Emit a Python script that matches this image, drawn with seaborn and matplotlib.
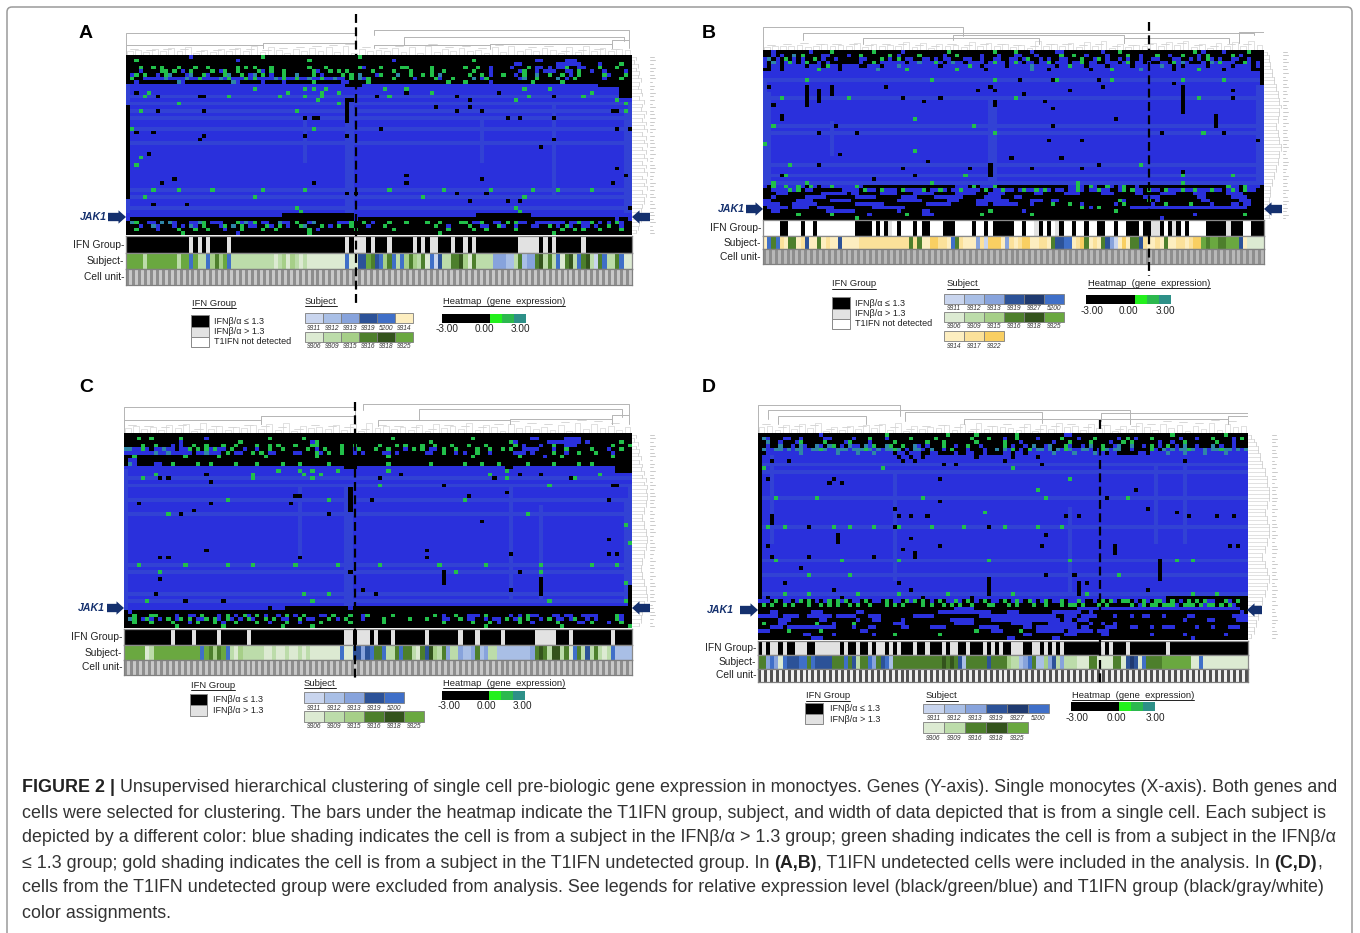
import numpy as np
import seaborn as sns
import matplotlib.pyplot as plt
from matplotlib.colors import ListedColormap
from matplotlib.patches import Rectangle, FancyBboxPatch

sns.set_theme(style='white')
plt.rcParams['font.family'] = ['Liberation Sans', 'DejaVu Sans']

W, H = 1360, 933
NCOL = 120

# heatmap cell codes
heat_codes = '.bltg'
heat_colors = ['#000000', '#2a30dc', '#3242d4', '#2f86a6', '#22c04a']

ifn_codes = 'KGW'
ifn_colors = ['#000000', '#e2e2e2', '#ffffff']

subject_codes = 'abcdefghijklmno'
subject_colors = ['#c9d5ee', '#a9bfe6', '#87a3dc', '#2c5298', '#3f6fc8', '#1f3a70',
                  '#dcead2', '#bcdcaa', '#a6cf88', '#4d7f2c', '#33531c', '#6aa840',
                  '#fdeec0', '#fbe19a', '#f9cf62']

# ---- panel A ----
top_a = [
    ".......... .....b.... .......... ..g....... .......... .....g.... .......... .......... .......... .......... .......... ..........",
    "..g....... .......... ......b... .......... ...g...... .......... ...b...... .......... ..g....... .......bb. ....bbb... ..........",
    ".......... .......... .......... .......... .......... .......... .......... .......... .......... ..bb...... ..bbbbbb.. ..b....g..",
    "...g..g.g. ..g...g..g ......g.g. g...g..... ...g...g.. .....gb... g....gg... ..g....... g..g..b... .b...g.bb. b.bbg..bb. ..g...g...",
    "...b....gg .g.b.g.... g.bg..g... .gb.g..g.. ....gb..g. g.g.....g. ...g...g.. ..g..g.... ..g...b... ...bg..b.b bb..bb.g.. b..b....b.",
    ".bg.g..b.g t...bt..gb ...gt..g.b t.g.b..g.. t...g.b... .g.g.t...b g...t..g.. g.g.t..... .g..g.b..g ..b.g..t.. g..g.b.g.. ...gb...g.",
    ".g..bbbbbt bbbbtbbgbb bbtbgbbbgb gbbbbtbgbb gbbtbbgbbt bb.g.tbg.. ...g....b. ...gb..g.. ..t.bg.... ...bt..g.. ..t.b.g... ...b...g..",
    "..b....... ..tb...... .....tb... ..b....b.. ....g..... .bb....g.. .......... ......g... g.....b... ......g... ...g...... ..........",
]
bottom_a = [
    "b......... .......... .......... .......... .......... ....b..... .......... .......... .......... .......... .......... ......b..b",
    ".tg..bb.t. tb...bbtg. bbb...gbtb g.bb..tbb. g..bt..... bbbg..g.b. ..g...g... .g..g....g g.bbg..bb. g.gbb..bbb bbbb.bbgbb g.b.b.gb..",
    "...b..tb.. .b.b.tb.g. ..bg.t.g.b b..gb.g.b. .gt...g.b. g..g...b.. .g........ ...g..b... .g..bb..gb ..b...bb.. g.b.gb..bb .b..g..b..",
    "..g....b.. ..g...g..g ...b...g.. ..g..g.... ...g.b.... ....g..... ...g...... ......g... ..g..g.... ..g....... ...g..g.g. ..g....g..",
    ".......... ...g...... ......b... .......... ...g...... .......... .......... ....g..... .......... .......... .g........ ..........",
]
light_a = [11, 13, 15, 17, 20, 24, 37, 39, 42]
light_cols_a = [(0, 8, 44), (42, 18, 30), (52, 12, 44), (53, 12, 44), (84, 18, 30), (101, 14, 40), (119, 14, 44), (118, 16, 44)]
black_a = {
    10: [2, 66, 88], 11: [7, 17, 18, 59, 78, 101], 12: [81, 52, 53], 14: [73, 81], 15: [7, 18, 78, 84, 115, 116],
    17: [42, 44, 45, 90, 93, 101], 20: [60, 116, 119], 21: [2, 6], 22: [18, 42, 52], 23: [17, 101], 25: [98],
    27: [5], 31: [116], 33: [66, 118], 34: [11, 84], 35: [8, 44, 66, 115], 38: [52, 54, 78, 85], 40: [81, 90, 93],
    41: [6, 14], 42: [119],
}
green_a = {
    9: [30, 42, 44, 47, 61, 66, 94, 100], 10: [5, 38, 46, 50, 72, 110], 11: [4, 24, 36, 42, 46, 62, 95, 108], 12: [45, 92, 116],
    13: [12, 50, 118], 15: [3, 40, 118], 20: [1, 44], 37: [6, 12, 20, 32, 42, 62, 75, 86, 96, 102, 110],
    39: [4, 30, 70, 94], 42: [40, 92], 43: [41, 93], 30: [2], 28: [3],
}
spans_a = [(8, 9, 52, 56), (8, 9, 112, 120), (9, 12, 117, 120), (44, 45, 37, 54), (44, 45, 83, 96), (12, 19, 52, 53), (14, 40, 0, 1)]
ifn_a = ("KKKKKKKKKKKKKKK G K G K G KKKK G KKKKKKKKKKKKKKKKKKKKKKKKKKK G K G"
         "GG K G KKK G KKK KK G K G K GG KKK G KK G K G KK KKK KK KKK GGGGG K G K G KKKK KK G KKKK KKK KKK KKK G KK G K")
subject_a = ("llllhlllllllhll e l h h e ijil e hhhhhhhhh hghigihghg gggggggg e g g"
             "ddljdeijehe ijihjgeadhhjjkigjhhhhcccbbhjbccjkhjhegjkhejkhajehhjeg")
fine_a = "3526473815264739285164738291645372819263745182936475182937465"
right_a = "21324354356476587687968796879687968796877654354322"

# ---- panel B ----
top_b = [
    "..b....... .b....g... ......g... ...b...... ....g..... .....g.... g...b..... bb........ .b...g.... .......... ...g.b.... b.....g...",
    "..b.b..t.g ....bb.... b..g...... g.b....g.. ...b..g... ..b...b... bb...b.... .g..g..b.. ..b....g.. b...g..b.. g...b.g... ..g.b.....",
    "bt.b.g.b.b ..g.b..b.. ...bb...g. b.g.bb..bb .b.bb...bb ..b..bb..b b.bg..b.b. .bb...g..b g.b..b.b.. b..bb...bb ..b.b.gb.b ..bb..b...",
    "b.tb.bgb.b g..b.b.... ...b..g.bb bbbb.bbtbb bgb.btbb.b bbb.bgbb.b gb.bb.bbg. bbb.bbg.bb ..bbb.bg.b b.b..bb.gb tb...b.tbg bbb..gb.b.",
    "b.bb.bbbbb .bbb.gbb.b bbb..bbb.b bbtbbbbbbb bb.bbbbbbg bb.bbbbb.b bbbbtbbbbb .bbgbbb.bb bb.bbbbb.b bbbbbtbb.b .bbbbb.bbb bb.bbbb.b.",
    "..bb.bbbbb bbbgbbbb.b bbbbbbbtbb bbbbgbbbbb bbbbbbgbbb bbb.bbbbbb bbbbtbbb.b bbbbbbbb.b bbbgbbbbbb tbbbbbbb.b bbbbgbbbbb .bbbbbb...",
]
bottom_b = [
    "b.gbbgbbgb .gb.bbgbbb bbgb...... .......... ......bbb. g.bbbg.... .......... ...bbgb.gb ..gb.bg..b .......... .......... .gbb.gbbb.",
    "..bbbbgbg. bb.......b bbb.gbb.gb bb.gbbbbg. bbgb.bbgbb bb.g.bbgbb .bgbbgbgb. bb.bbgb.bb gbb..bg.gb b.gbb.gbbb gbbgbbbgbb .bgb.gbb..",
    "...bbb.... ....bbbbbb .bb.....bb bb....bbbb b.....bbbb b...bbbb.. .....bb... ..bbbb.... .bbb.....b b....bbbb. ...bbb.... .bbbb.....",
    "..b....... bbbbb..... ..bbbbb... ...bbbb... .bbbbbbb.. ...bbbb... bb........ .......... .......... .bbbb..... ....bb.... ..bbbb....",
    "bb......bb bb....bbbb b......... ..bbbbbb.. ....bbb... .bbbbbbbb. ....bbb..b b......... .....gb... ..g.b..... .....bb... ....bbb...",
    "bbbb...bbb bbb....... ..bbbbbbb. .........b bbbbb..... .bbb.bbbbb b...b....g ...g..b... ....b.g... ...b..g... ..g....b.. ..bb.bb...",
    ".bbbbb.bbb b..bbbb... ......bbbb bbbb...... .......... .......... .......... ......g.b. g.......bb bbbbbbbbbb bbbbbbbbbb bbbbbb....",
    "..bb...... .....bbbbb bb........ ..b.....bb .......... ....g..... ..b....... .......... ....g..... .......... .......... ..........",
    "........g. ......g... .....b.... ....g...bb b......... ..g....... ....g..... .......... .......... .......... ...b...... .....g....",
    ".......... .......... ..g....... .......... .......... .......... .......... .......... .......... .....b.... .......... ..........",
]
light_b = [8, 13, 21, 23, 32, 35, 37]
light_cols_b = [(0, 8, 38), (1, 12, 38), (16, 20, 30), (54, 14, 38), (55, 14, 38), (118, 10, 38), (119, 10, 38)]
black_b = {
    8: [61, 69, 80], 9: [98, 119], 10: [1, 29, 54, 81], 11: [51, 55, 73, 112], 12: [62], 13: [33, 42, 112], 14: [38, 67, 55],
    15: [2, 55], 16: [69], 18: [4], 19: [84, 4], 21: [17, 69, 108], 23: [13, 22, 95, 110], 25: [68, 76, 118],
    29: [18], 30: [59, 71], 31: [39], 32: [13, 80, 54], 33: [33, 49, 64, 76], 34: [100], 35: [4, 36], 36: [26],
}
green_b = {
    8: [10, 40, 55, 70, 83, 100, 110], 13: [4, 20, 60, 104], 21: [2, 50], 23: [55, 105], 32: [6, 90], 35: [5, 48, 100, 112], 37: [2, 10, 40, 75, 100],
    28: [36], 19: [36], 26: [0],
}
spans_b = [(10, 16, 10, 11), (11, 15, 13, 14), (10, 13, 16, 17), (10, 18, 100, 101), (18, 22, 108, 109), (32, 36, 54, 55), (6, 9, 119, 120)]
ifn_b = ("WWWWK KWWW KWWK WWWWWW WWW KKK KWKWK GWKWW WK WKKWW WKKK WW WWK WWK WKKKK KWWKW WGKWK WGKWW"
         "KWWKW WKKWW KWWKK KWKK GGKWK GKWKWWW WKK KKKGKKKWWKK KKKKKKKKKK KKK WWKK")
subject_b = ("mejen mjjmn dmmj mnmmd mmmmnnnnnnnnnnn njnjm moonn mejnm mmcna ooomc nmnoom"
             "mnnmj ddeemn ojmnm jdcamo mjjd nmmn mjmmnnmn ooljlljj llldmg gggggggggg gmmm mgljg")
fine_b = "2434523645372635482716352847362519364728391625374859261738495"
right_b = "1223344556677889887766778899887766554433322112234"

# ---- panel C ----
top_c = [
    ".......... .......... .......... .......... .......... .......... .......... .......... .......... .......... .......... ..........",
    "...g..g... ...g.....b .......... ....g..... ..g....... .......... ...g...... .......... ..g....... ......bb.. ....bbbb.. ..........",
    ".......... ...b...... .......g.. .......... ....bg.... .......... .......... ..g....... .......... .gb....... bbbbbbbb.b .......g..",
    "....g..g.. .b.b..g..g ...g..g... .g..g.g... g...gg.... .g..g..... g...g.g... g..g...g.. .g...g.... ..g.b...b. .g..bbb... .....g...g",
    "ttbbgb.bbt bb.bbg.g.g bgbb.g..b. .b..g..g.. ...g.b.g.. .g..bg...g ..g...b.g. g.bb.g..g. ...g..g..g .g..bbbb.. .b..g..... g...b..g..",
    "bbbbbbbtbb tbbbbb.bbt bbb.g.bb.. g.g.bb.... bb...gb.g. .g..b.b... .bb.b..... .bb..g..b. b..g..b... ..bbb.b... .g..b..g.. .g...b....",
    "..g....... ....g..... ..g....... ...g...... .....g.... .......... ..g....... .......... ..g....... ...g.....b ...g...... .....g....",
    ".bb...... .......... .......... .......... .......... .......... .......... .......... .......... .......... .......... ...........",
    ".tb....bb. .g.....g.. g.....g... .g.....g.. .g......g. .......... ..g....... ..g....... g...g...g. .....g.... .g.....g.. g.........",
]
bottom_c = [
    ".b........ .......... .......... .......... .......... .......... .......... .......... .......... .......... .......... ..........",
    "..g...gg.. ..b..bb.g. ..b.g.b.gb .g.b..b.g. b.g...bb.g ...g..bg.. ...g...... ...g.b..g. .bbb.g.... .b.b.gbb.. .bb.bb..bb bb....gb..",
    ".tg.bgb.b. g.bg.g.bbg .gb.gb.b.g b..g.g.bb. .g.bb...g. b.g...b... .g.....g.. .g...bb..g .bb..b.bb. g.bg.g..b. g.bb.bg..b .b....gb..",
    "..g...g... .g...b.g.. .g.b..g... .g..b...g. .b....g... ...g...... .g........ .....g.... ..g...g.b. ...g..b... ..g....bb. g...b..g..",
    ".......... ..g....... ...g...... .......g.. ....g..... .......... .......... .......... .....g.... .......... ...g...... .........g",
]
light_c = [12, 14, 18, 22, 36, 38, 44, 46]
light_cols_c = [(0, 10, 49), (41, 14, 34), (53, 14, 48), (52, 14, 48), (91, 14, 46), (98, 20, 46), (118, 18, 46), (119, 14, 42)]
black_c = {
    11: [19, 65, 93, 98], 12: [8, 10, 60, 87, 105], 13: [20], 14: [75, 115, 116], 15: [53], 16: [90], 17: [40, 41, 81], 18: [58, 114],
    19: [3, 20, 39], 21: [16], 22: [13, 48], 24: [84], 29: [114], 32: [19, 71], 33: [91, 114, 116], 34: [8, 10, 41, 71], 38: [53, 75, 93],
    40: [8, 98], 43: [56, 91], 44: [7, 59], 46: [14, 23], 48: [34, 113],
}
green_c = {
    10: [36, 41, 44, 50, 62, 90], 11: [7, 30, 42, 46, 86, 112], 12: [4, 30, 44, 90, 106], 14: [60, 100], 18: [24, 48, 80], 22: [10, 95],
    36: [3, 14, 24, 30, 40, 50, 60, 74, 85, 98, 110, 116], 38: [8, 78, 98],
    44: [42, 48, 98], 46: [5, 44, 100, 118], 30: [119], 41: [98, 118], 42: [119], 25: [118],
}
spans_c = [(9, 10, 52, 55), (9, 11, 116, 120), (9, 10, 90, 92), (48, 49, 38, 53), (48, 49, 54, 120), (15, 22, 53, 54), (38, 42, 75, 76),
           (40, 45, 98, 99), (42, 48, 119, 120), (14, 15, 115, 117)]
ifn_c = ("KKKKKKKKKKK G KKKK G KKKKK G KKKKKK G KKKKKKKKKKKKKKKKKKKKKK G G K G"
         "GG K G K KK G KK KKK KK G K KK KK KK GK KK G KKKKK G KKK K K KK GGGGG KKK G KK KK K KK KK G KK KK G K")
subject_c = ("lllllghlllllllllll e l jijl e hgihh hh hgghg ghgghghg gggggg e g g"
             "ddcdejjehhjejjhgjdkihjchhcbbcjbchhbbbbbbbbcjkjhkkhjgejhdhjhgheb")
fine_c = "4635274819362547382916453728194635271846392751846352719384625"
right_c = "213243546576879899887766778899887766556677889977665544332211223"

# ---- panel D ----
top_d = [
    ".......... .....b.... .......... .g........ ......g... ...g...... ...g...... .....bb... .......... .......... .g........ ....g.....",
    ".tb...bb.. b.....bb.. ...b...g.. .b.....g.. ...g...... ..g...g... b..g....b. ....g...b. ..g.....b. g.b...g... ...b...b.. .g....b.g.",
    "..t..b...b g.....g... .bg....b.. ...g...... .g...g.... ...g...... g...b..... ..b...g... .g....b..g .g......b. .b..g..... ..g...b...",
    "..b..t..b. tb..tb.tg. b.tbb.tbg. .tg..g..tb .b...g..b. .g..b..... g.b..b.t.. bt...gb..b .t..g..bt. .t..b.g.b. g.b.t..b.. .t.b..b...",
    ".tbbttbtbt tbbttgtbbt ttbtttgtbt bttgt.b.tt b.t..b.g.. .b...b..t. tbg.b.gbtt bt.tbgtbbt tb.bgtbtt. .b....gb.t btbttgtbbt bttgttbtbt",
    "..bbbbbbbb tbbbbbbbbt bbbbtbbbtb bbb.bb.bbb ..bb....b. .bb..b.... bb.bb.bbbb bbtbbbbtbb bbtbb.bb.. ...bb.bbbb tbbbtbbbbt bbbbtbbbbb",
]
bottom_d = [
    "bbb.g.bb.b g.g.b.bg.g bg.bb.g.bb .g.bb.gbg. g.b.g.bbgb .g.b.g.bb. g.bgb.gb.b g.bbg.bbgb ..b.g.gb.g g.b.gb.ggb .g.b.g.g.g bb..gb.g..",
    ".g.g..g.g. ..g..g.g.g ..g.g..g.. .g.g.g.... g.g..g.g.g ..g...gg.. .g.g...g.. g...g.gg.g ...g.g.... .g.bg.gg.g ggb.ggg.gb gg.g.gb...",
    ".......... .......... .......... .......... ........bb bbb....... .......... ........bb bbbbbbbbbb bbbbbbbbbb bbbbbbbbbb bbbbbbbb..",
    "...bb..... ...bbb.... ....bb.... .......... ....bbbbbb bbbbbbb... .bbb...... ..bbbbbbb. .b........ .......... .......... ........b.",
    "bbbbb.bbbb ..bbbbbb.b bbbb...bbb ........bb bbb....... ....bbbbbb bbbbbbbbbb bbb..bbb.b bbb....b.. .b..bb...b .....bb... ......bbbb",
    ".....bbb.. .....bb... ....b...bb .....b.... .......bbb bbb....bbb bbbbbbbbbb bbbb.bb.bb b......... .......... ....b..... bb.....bbb",
    ".g...bb... ....g...b. ...g...... ...bbb.... ........bb bbb....... ..bbbbb... .bbbbbbb.. .b..b..b.. .......... .......... ..........",
    "...bbb.bbb bbbbbbbbb. ...b...bb. .....bb... ..bbbb.... ....bbbbb. .....bb.bb bbbbbbbb.b b....bbb.. .bb...b..b bb.....b.. .b...bbb..",
    "bbb....g.. .....g.... .....bb... .......... .......... ...g...bbb ....g...bb bbbbb.bbbb bb.bbb.... .......... .......... ..........",
    ".......... .bb.....b. ........b. ...g...... ....g..... .......... .....bb... .....bbb.. ....bb.... ......b... ....b..... ....b.....",
    ".......... ...bbb.... .......... .......... .......... .......... .bb....... ..bb...... .......... .......... ......b... ..........",
]
light_d = [8, 10, 17, 25, 34, 38, 43]
light_cols_d = [(0, 6, 45), (3, 6, 30), (33, 10, 40), (76, 20, 44), (97, 8, 30), (104, 8, 30)]
black_d = {
    6: [34, 37, 40, 53, 62, 68], 7: [3, 7, 35, 38, 60, 104], 8: [45, 48, 69], 12: [2, 18, 44], 13: [17, 20], 15: [92], 17: [85], 18: [44],
    20: [33, 95], 21: [102], 22: [34, 37, 41, 75, 78, 116, 112, 105], 25: [12, 56, 33], 27: [0, 70], 28: [37], 30: [2, 44, 69, 115, 117], 31: [35],
    33: [3, 12, 28], 36: [0, 10], 38: [70, 77], 40: [6, 34, 78, 80], 42: [18, 37, 95], 44: [2, 20, 40, 52],
}
green_d = {
    17: [4, 14, 40, 70, 90], 25: [2, 6, 12, 18, 22, 28, 34, 42, 50, 60, 68, 74], 34: [4, 20, 34, 56, 76, 98, 102, 106], 38: [12, 22, 88], 43: [6, 12, 24, 34, 46, 56, 62, 78, 80, 106, 112],
    21: [55], 15: [68], 9: [1, 30, 62], 12: [0, 76],
}
spans_d = [(22, 25, 3, 4), (27, 30, 19, 20), (32, 34, 38, 39), (34, 40, 98, 99), (30, 33, 87, 88), (39, 44, 56, 57), (40, 44, 78, 79), (0, 45, 0, 1), (44, 45, 100, 120)]
ifn_d = ("KGKGGKGKKGGGKKGGGGGG KGKK GKKGK GGKGKG KKK GKK GKKKGKGG KK GKKK GKG KGKK GGGKKGGKGK GK GKKKKKKKK K"
         "GKGKKKGKKKKKKKKKGKKKKKKKKKKK")
subject_d = ("jjcecgedddeejeddddjjjejdhjjecjdebjjjjjjjjjjjjkjkjdbjjjjjdjjjj ihh bcejbbicdhchhh gggjjggggjjg df d"
             "gejjjjlllllllgg e gggggggggggggggg")
fine_d = "5627384915263748291635472819365428173956284716395284716392856"
right_d = "1234455667788899998877889999887766778899887766554433221122334455"

label_len = "3424234132423142343241323424213432142324134232412342134241323424"

panels = [
    dict(letter='A', lx=86, ly=34, box=(126, 55, 632, 235), nrows=50, strips=(236, 253, 269, 285), dendro=(30, 55),
         top=top_a, bottom=bottom_a, light=light_a, lcols=light_cols_a, black=black_a, green=green_a, spans=spans_a,
         ifn=ifn_a, subject=subject_a, fine=fine_a, reach=right_a, cells=170, stripe=('#8e8e8e', '#c8c8c8'),
         right_end=648, lab_x=650, dash=(356, 14, 303), arrow_y=217, arrow_l=(108, 126), arrow_r=(650, 632), jak_x=80,
         brackets=[(0, 45.5, .90, 0, .45), (49, 99.5, 1.0, .8, .6), (55, 98.5, .74, .42, .55), (27, 45.5, .5, .3, .3),
                   (0, 27, .42, .25, .3), (49, 72, .42, .3, .25), (72, 96, .46, .3, .3), (96, 99.5, .6, .3, .3)]),
    dict(letter='B', lx=709, ly=34, box=(763, 50, 1264, 220), nrows=48, strips=(220, 236, 249, 264), dendro=(25, 50),
         top=top_b, bottom=bottom_b, light=light_b, lcols=light_cols_b, black=black_b, green=green_b, spans=spans_b,
         ifn=ifn_b, subject=subject_b, fine=fine_b, reach=right_b, cells=170, stripe=('#8e8e8e', '#b8b8b8'),
         right_end=1282, lab_x=1283, dash=(1149, 22, 276), arrow_y=209, arrow_l=(746, 763), arrow_r=(1282, 1264), jak_x=718,
         brackets=[(0, 40, .92, 0, .55), (8, 98, .70, .4, .6), (38, 72, .62, .4, .3), (72, 93, .5, .3, .3), (20, 55, .5, .25, .25), (95, 100, .72, .3, .3)]),
    dict(letter='C', lx=86, ly=388, box=(124, 433, 632, 628), nrows=54, strips=(629, 645, 660, 675), dendro=(404, 433),
         top=top_c, bottom=bottom_c, light=light_c, lcols=light_cols_c, black=black_c, green=green_c, spans=spans_c,
         ifn=ifn_c, subject=subject_c, fine=fine_c, reach=right_c, cells=170, stripe=('#8e8e8e', '#c8c8c8'),
         right_end=648, lab_x=650, dash=(355, 402, 678), arrow_y=608, arrow_l=(107, 124), arrow_r=(650, 632), jak_x=78,
         brackets=[(0, 45.5, .88, 0, .4), (47, 99.5, 1.0, .8, .6), (58, 98, .82, .45, .55), (27, 45.5, .58, .3, .3),
                   (0, 27, .45, .25, .3), (50, 76, .45, .25, .3), (76, 96, .5, .3, .3), (96, 99.5, .62, .3, .3)]),
    dict(letter='D', lx=709, ly=388, box=(758, 433, 1248, 640), nrows=56, strips=(641, 655, 669, 682), dendro=(404, 433),
         top=top_d, bottom=bottom_d, light=light_d, lcols=light_cols_d, black=black_d, green=green_d, spans=spans_d,
         ifn=ifn_d, subject=subject_d, fine=fine_d, reach=right_d, cells=165, stripe=('#505050', '#f0f0f0'),
         right_end=1270, lab_x=1272, dash=(1100, 420, 685), arrow_y=610, arrow_l=(740, 758), arrow_r=(1262, 1247), jak_x=707,
         brackets=[(0, 29, .95, 0, .6), (2, 76, .80, .5, .45), (30, 58, .72, .4, .35), (4, 22, .6, .3, .3), (70, 100, .68, .4, .45),
                   (42, 76, .5, .3, .3), (76, 96, .48, .3, .3), (96, 100, .6, .3, .3)]),
]

# ---- legends ----
legend_ifn_names = ['IFNβ/α ≤ 1.3', 'IFNβ/α > 1.3', 'T1IFN not detected']
subject_rows = {
    'A': [['9311', '9312', '9313', '9319', '5200', '9314'], ['9306', '9309', '9315', '9316', '9318', '9325']],
    'B': [['9311', '9312', '9313', '9319', '9327', '5200'], ['9306', '9309', '9315', '9316', '9318', '9325'], ['9314', '9317', '9322']],
    'C': [['9311', '9312', '9313', '9319', '5200'], ['9306', '9309', '9315', '9316', '9318', '9325']],
    'D': [['9311', '9312', '9313', '9319', '9327', '5200'], ['9306', '9309', '9316', '9318', '9325']],
}
subject_color = {'9311': 'a', '9312': 'b', '9313': 'c', '9319': 'd', '5200': 'e', '9327': 'f', '9306': 'g', '9309': 'h',
                 '9315': 'i', '9316': 'j', '9318': 'k', '9325': 'l', '9314': 'm', '9317': 'n', '9322': 'o'}
scale_colors = ['#000000', '#22f01c', '#2cb84e', '#2e9088']
scale_ticks = ['-3.00', '0.00', '3.00']

legend_layout = {
    'A': dict(ifn_head=(192, 303), ifn_swatch=(191, 315, 18, [12, 10, 10]), ifn_tx=214,
              subj_head=(305, 301), subj_x=305, subj_w=18, subj_y=[(313, 323, 328), (332, 342, 347)],
              heat_head=(443, 301), bar=(442, 314, 526, 323), tick_y=329, tick_x=[447, 484, 520]),
    'B': dict(ifn_head=(832, 284), ifn_swatch=(832, 297, 18, [12, 10, 10]), ifn_tx=855,
              subj_head=(947, 284), subj_x=944, subj_w=20, subj_y=[(294, 304, 309), (312, 322, 327), (331, 341, 346)],
              heat_head=(1088, 283), bar=(1086, 295, 1171, 304), tick_y=311, tick_x=[1092, 1128, 1165]),
    'C': dict(ifn_head=(191, 685), ifn_swatch=(190, 694, 17, [11, 11]), ifn_tx=213,
              subj_head=(304, 683), subj_x=304, subj_w=20, subj_y=[(692, 703, 708), (711, 722, 726)],
              heat_head=(443, 683), bar=(442, 691, 525, 700), tick_y=706, tick_x=[449, 486, 522]),
    'D': dict(ifn_head=(806, 696), ifn_swatch=(805, 703, 18, [11, 10]), ifn_tx=830,
              subj_head=(926, 696), subj_x=923, subj_w=21, subj_y=[(704, 713, 719), (722, 733, 738)],
              heat_head=(1072, 695), bar=(1071, 702, 1155, 711), tick_y=718, tick_x=[1077, 1116, 1155]),
}

caption_lines = [
    [("FIGURE 2 |", True), (" Unsupervised hierarchical clustering of single cell pre-biologic gene expression in monoctyes. Genes (Y-axis). Single monocytes (X-axis). Both genes and", False)],
    [("cells were selected for clustering. The bars under the heatmap indicate the T1IFN group, subject, and width of data depicted that is from a single cell. Each subject is", False)],
    [("depicted by a different color: blue shading indicates the cell is from a subject in the IFNβ/α > 1.3 group; green shading indicates the cell is from a subject in the IFNβ/α", False)],
    [("≤ 1.3 group; gold shading indicates the cell is from a subject in the T1IFN undetected group. In ", False), ("(A,B)", True), (", T1IFN undetected cells were included in the analysis. In ", False), ("(C,D)", True), (",", False)],
    [("cells from the T1IFN undetected group were excluded from analysis. See legends for relative expression level (black/green/blue) and T1IFN group (black/gray/white)", False)],
    [("color assignments.", False)],
]
caption_y = [788, 813, 838, 863, 888, 913]


def clean(text, n, pad=None):
    s = text.replace(' ', '')
    return s.ljust(n, pad or s[-1])[:n]


def px_axes(x0, y0, x1, y1, **kw):
    return fig.add_axes([x0 / W, 1 - y1 / H, (x1 - x0) / W, (y1 - y0) / H], **kw)


def build_heat(p):
    grid = [list('b' * NCOL) for _ in range(p['nrows'])]
    for r in p['light']:
        grid[r] = list('l' * NCOL)
    for c, r0, r1 in p['lcols']:
        for r in range(r0, r1):
            grid[r][c] = 'l'
    for r, cols in p['green'].items():
        for c in cols:
            grid[r][c] = 'g'
    for r, cols in p['black'].items():
        for c in cols:
            grid[r][c] = '.'
    for r0, r1, c0, c1 in p['spans']:
        for r in range(r0, r1):
            grid[r][c0:c1] = list('.' * (c1 - c0))
    for i, row in enumerate(p['top']):
        grid[i] = list(clean(row, NCOL, '.'))
    for i, row in enumerate(p['bottom']):
        grid[p['nrows'] - len(p['bottom']) + i] = list(clean(row, NCOL, '.'))
    return np.array([[heat_codes.index(c) for c in row] for row in grid])


def draw_matrix(box, values, colors, frame=None):
    ax = px_axes(*box)
    sns.heatmap(values, cmap=ListedColormap(colors), vmin=-0.5, vmax=len(colors) - 0.5, cbar=False,
                xticklabels=False, yticklabels=False, ax=ax, rasterized=True)
    if frame:
        for s in ax.spines.values():
            s.set_visible(True)
            s.set_color(frame)
            s.set_linewidth(0.9)
    return ax


def draw_dendro(p):
    x0, _, x1, _ = p['box']
    ax = px_axes(x0, p['dendro'][0], x1, p['dendro'][1])
    ax.set_xlim(0, 100)
    ax.set_ylim(0, 1)
    ax.axis('off')
    n = len(p['fine'])
    w = 100 / n
    for i, d in enumerate(p['fine']):
        h = 0.04 + int(d) * 0.035
        a, b = i * w + w * 0.1, i * w + w * 0.8
        ax.plot([a, a, b, b], [0, h, h, 0], color='#d4d4d4', lw=0.5)
        if i % 2 == 0 and i + 1 < n:
            ax.plot([(a + b) / 2, (a + b) / 2 + w], [h + 0.08, h + 0.08], color='#c8c8c8', lw=0.5)
    for a, b, top, la, lb in p['brackets']:
        ax.plot([a, a, b, b], [la, top, top, lb], color='#b4b4b4', lw=0.7)


def draw_row_dendro(p):
    x1 = p['box'][2]
    y0, y1 = p['box'][1], p['box'][3]
    ax = px_axes(x1, y0, p['right_end'], y1)
    n = p['nrows']
    ax.set_xlim(0, 10)
    ax.set_ylim(n, 0)
    ax.axis('off')
    reach = clean(p['reach'], n)
    for r in range(n):
        v = int(reach[r]) + 0.5
        ax.plot([0, v], [r + .5, r + .5], color='#d0d0d0', lw=0.45)
        if r + 1 < n:
            ax.plot([v, v], [r + .5, r + 1.5], color='#c0c0c0', lw=0.45)
    lab = px_axes(p['lab_x'], y0, p['lab_x'] + 6, y1)
    lab.set_xlim(0, 6)
    lab.set_ylim(n, 0)
    lab.axis('off')
    for r in range(n):
        lab.plot([0, int(label_len[r % len(label_len)]) + 1], [r + .5, r + .5], color='#cacaca', lw=0.7)


def under_text(x, y, s, size):
    t = ov.text(x, y, s, fontsize=size, color='#222222', va='center', ha='left')
    ext = t.get_window_extent(renderer)
    ov.plot([x, x + ext.width], [y + 5, y + 5], color='#222222', lw=0.7)


def draw_legend(letter):
    g = legend_layout[letter]
    under_text(*g['ifn_head'], 'IFN Group', 6.8)
    sx, sy, sw, heights = g['ifn_swatch']
    for i, h in enumerate(heights):
        ov.add_patch(Rectangle((sx, sy), sw, h, fc=ifn_colors[i], ec='#888888', lw=0.7))
        ov.text(g['ifn_tx'], sy + h / 2, legend_ifn_names[i], fontsize=6.5, color='#222222', va='center')
        sy += h
    under_text(*g['subj_head'], 'Subject', 6.8)
    for names, (y0, y1, ly) in zip(subject_rows[letter], g['subj_y']):
        for i, nm in enumerate(names):
            c = subject_colors[subject_codes.index(subject_color[nm])]
            ov.add_patch(Rectangle((g['subj_x'] + i * g['subj_w'], y0), g['subj_w'], y1 - y0, fc=c, ec='#7d7d7d', lw=0.6))
            ov.text(g['subj_x'] + (i + .5) * g['subj_w'], ly, nm, fontsize=4.8, style='italic', color='#333333', ha='center', va='center')
    under_text(*g['heat_head'], 'Heatmap  (gene  expression)', 6.8)
    x0, y0, x1, y1 = g['bar']
    bw = (x1 - x0) / 7
    widths = [4, 1, 1, 1]
    x = x0
    for c, k in zip(scale_colors, widths):
        ov.add_patch(Rectangle((x, y0), bw * k, y1 - y0, fc=c, ec='none'))
        x += bw * k
    for t, tx in zip(scale_ticks, g['tick_x']):
        ov.text(tx, g['tick_y'], t, fontsize=7.2, color='#222222', ha='center', va='center')


fig = plt.figure(figsize=(W / 100, H / 100), dpi=100, facecolor='white')
renderer = fig.canvas.get_renderer()

for p in panels:
    x0, y0, x1, y1 = p['box']
    draw_matrix(p['box'], build_heat(p), heat_colors)
    s0, s1, s2, s3 = p['strips']
    ifn = [[ifn_codes.index(c) for c in clean(p['ifn'], NCOL)]]
    subj = [[subject_codes.index(c) for c in clean(p['subject'], NCOL)]]
    draw_matrix((x0, s0, x1, s1), np.array(ifn), ifn_colors, frame='#8a8a8a')
    draw_matrix((x0, s1, x1, s2), np.array(subj), subject_colors, frame='#8a8a8a')
    draw_matrix((x0, s2, x1, s3), (np.arange(p['cells']) % 2).reshape(1, -1), list(p['stripe']), frame='#808080')
    draw_dendro(p)
    draw_row_dendro(p)

# overlay in pixel units for labels, arrows, legends
ov = fig.add_axes([0, 0, 1, 1], facecolor='none')
ov.set_xlim(0, W)
ov.set_ylim(H, 0)
ov.axis('off')

# frame runs off the bottom of the page
ov.add_patch(FancyBboxPatch((7, 7), 1345, 940, boxstyle='round,pad=0,rounding_size=5', fc='none', ec='#9a9a9a', lw=1.1))

for p in panels:
    x0 = p['box'][0]
    s0, s1, s2, s3 = p['strips']
    ov.text(p['lx'], p['ly'], p['letter'], fontsize=14, fontweight='bold', color='black', ha='center', va='center')
    for nm, a, b in [('IFN Group-', s0, s1), ('Subject-', s1, s2), ('Cell unit-', s2, s3)]:
        ov.text(x0 - 2, (a + b) / 2, nm, fontsize=7.4, color='#222222', ha='right', va='center')
    dx, dy0, dy1 = p['dash']
    ov.plot([dx, dx], [dy0, dy1], color='black', lw=1.6, linestyle=(0, (4, 2)))
    ay = p['arrow_y']
    for a, b in (p['arrow_l'], p['arrow_r']):
        ov.annotate('', xy=(b, ay), xytext=(a, ay),
                    arrowprops=dict(arrowstyle='simple,head_width=0.8,head_length=0.45,tail_width=0.5', color='#14306e', lw=0, shrinkA=0, shrinkB=0))
    ov.text(p['jak_x'], ay, 'JAK1', fontsize=7.6, fontweight='bold', style='italic', color='#14306e', va='center')
    draw_legend(p['letter'])

for runs, y in zip(caption_lines, caption_y):
    x = 22
    for s, bold in runs:
        t = ov.text(x, y, s, fontsize=12.85, color='#333333' if not bold else '#222222',
                    fontweight='bold' if bold else 'normal', va='center', ha='left')
        x += t.get_window_extent(renderer).width

fig.savefig('out.png', dpi=100)
